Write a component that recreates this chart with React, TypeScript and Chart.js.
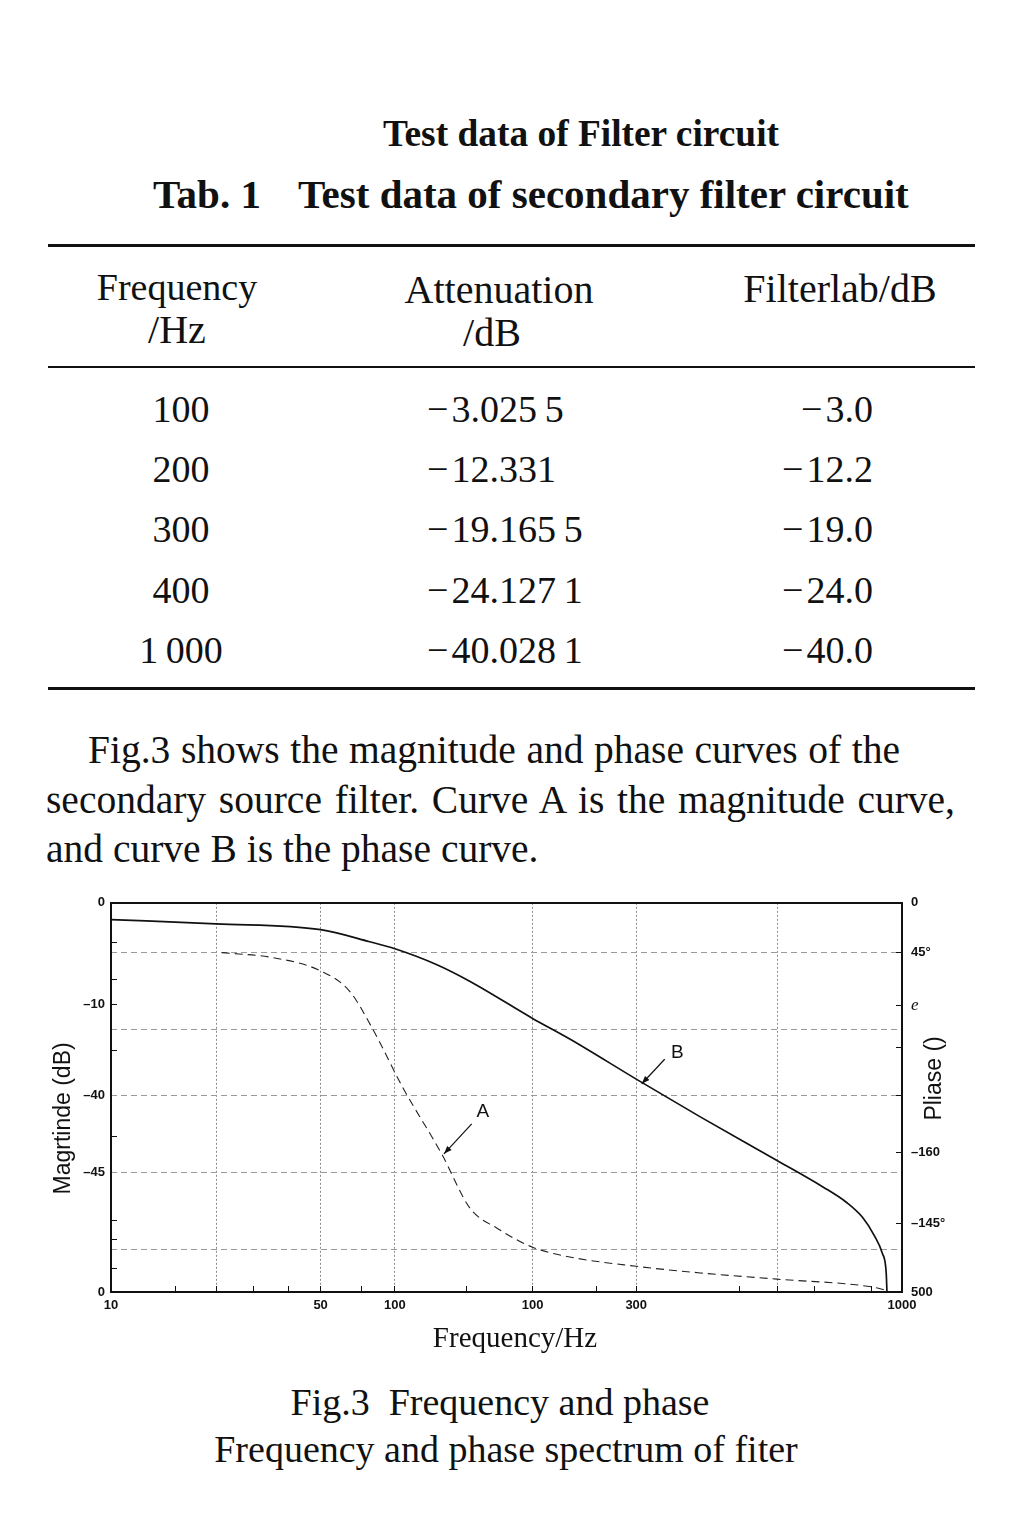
import React, { useEffect, useRef } from 'react';
import { Chart, registerables } from 'chart.js';

Chart.register(...registerables);

// ---------- Table data ----------
const tableHeaders = ['Frequency', '/Hz', 'Attenuation', '/dB', 'Filterlab/dB'];
const tableFrequency = ['100', '200', '300', '400', '1\u2009000'];
const tableAttenuation = ['\u2212\u200a3.025\u20095', '\u2212\u200a12.331', '\u2212\u200a19.165\u20095', '\u2212\u200a24.127\u20091', '\u2212\u200a40.028\u20091'];
const tableFilterlab = ['\u2212\u200a3.0', '\u2212\u200a12.2', '\u2212\u200a19.0', '\u2212\u200a24.0', '\u2212\u200a40.0'];

// ---------- Chart axes (positions along the printed axes, 0..100) ----------
const xTickPositions = [0, 8.2, 13.3, 18.0, 22.4, 26.5, 31.7, 35.9, 44.9, 53.3, 61.4, 66.4, 79.4, 84.2, 88.9, 96.2, 100];
const xTickLabels = ['10', '', '', '', '', '50', '', '100', '', '100', '', '300', '', '', '', '', '1000'];
const xGridPositions = [13.3, 26.5, 35.9, 53.3, 66.4, 84.2];

const yLeftTickPositions = [0, 6.1, 13.6, 18.4, 30.7, 39.9, 50.6, 62.1, 73.9, 80.3, 89.8, 100];
const yLeftTickLabels = ['0', '', '', '', '\u201345', '', '\u201340', '', '\u201310', '', '', '0'];
const yGridPositions = [11.0, 30.7, 50.6, 67.5, 87.2];

const yRightTickPositions = [0, 17.6, 35.8, 50.6, 62.7, 73.7, 87.2, 100];
const yRightTickLabels = ['500', '\u2013145\u00b0', '\u2013160', '', '', 'e', '45\u00b0', '0'];

// ---------- Curves ----------
// Curve B (phase, solid)
const curveBx = [0, 13.3, 26.5, 32.7, 35.9, 41.2, 45.4, 53.3, 58.0, 66.4, 74.5, 84.2, 90.0, 93.0, 95.0, 96.5, 97.5, 98.0, 98.1];
const curveBy = [95.7, 94.6, 93.1, 90.0, 88.2, 84.1, 79.8, 70.3, 65.0, 54.7, 45.0, 33.8, 27.0, 23.0, 19.2, 14.5, 10.0, 5.0, 0];
// Curve A (magnitude, dashed)
const curveAx = [14.0, 20.5, 26.5, 30.2, 33.1, 36.9, 41.8, 45.4, 48.8, 53.3, 58.0, 66.4, 74.5, 84.2, 96.2, 98.1];
const curveAy = [87.2, 85.9, 82.5, 77.2, 67.5, 52.5, 35.5, 21.5, 16.4, 11.5, 9.0, 6.6, 4.9, 3.3, 1.3, 0.4];

// ---------- Curve annotations ----------
const noteLabels = ['A', 'B'];
const noteLabelX = [47.0, 71.6];
const noteLabelY = [46.3, 61.4];
const noteFromX = [45.6, 70.0];
const noteFromY = [43.2, 59.8];
const noteToX = [42.1, 67.1];
const noteToY = [35.5, 53.5];

const SERIF = '"Liberation Serif", "Times New Roman", serif';
const SANS = '"Liberation Sans", Arial, sans-serif';

function Txt(props: { x: number; base: number; size: number; bold?: boolean; align?: 'left' | 'center' | 'right'; width?: number; justify?: boolean; children: React.ReactNode }) {
  const { x, base, size, bold, align = 'left', width, justify, children } = props;
  const style: React.CSSProperties = {
    position: 'absolute',
    top: base - 0.8375 * size,
    fontSize: size,
    lineHeight: `${size}px`,
    fontFamily: SERIF,
    fontWeight: bold ? 700 : 400,
    whiteSpace: justify ? 'normal' : 'pre',
    color: '#111',
  };
  if (align === 'left') {
    style.left = x;
    if (width) style.width = width;
    if (justify) { style.textAlign = 'justify'; style.textAlignLast = 'justify'; }
  } else if (align === 'center') {
    style.left = x - 500; style.width = 1000; style.textAlign = 'center';
  } else {
    style.left = x - 1000; style.width = 1000; style.textAlign = 'right';
  }
  return <div style={style}>{children}</div>;
}

function Rule({ y, h }: { y: number; h: number }) {
  return <div style={{ position: 'absolute', left: 48, width: 927, top: y - h / 2, height: h, background: '#111' }} />;
}

function pick(positions: number[], labels: string[]) {
  return (v: any) => {
    const i = positions.indexOf(Number(v));
    return i >= 0 ? labels[i] : '';
  };
}

const tickFont = { family: SANS, size: 13, weight: 'bold' as const };
const scriptFont = { family: SERIF, size: 17, style: 'italic' as const, weight: 'normal' as const };

export default function App() {
  const canvasRef = useRef<HTMLCanvasElement>(null);

  useEffect(() => {
    const canvas = canvasRef.current;
    if (!canvas) return;

    const overlay = {
      id: 'overlay',
      afterDatasetsDraw(chart: any) {
        const { ctx, chartArea } = chart;
        const xs = chart.scales.x;
        const ys = chart.scales.y;
        ctx.save();
        for (let i = 0; i < noteLabels.length; i++) {
          const fx = xs.getPixelForValue(noteFromX[i]);
          const fy = ys.getPixelForValue(noteFromY[i]);
          const tx = xs.getPixelForValue(noteToX[i]);
          const ty = ys.getPixelForValue(noteToY[i]);
          ctx.strokeStyle = '#111';
          ctx.fillStyle = '#111';
          ctx.lineWidth = 1.2;
          ctx.beginPath();
          ctx.moveTo(fx, fy);
          ctx.lineTo(tx, ty);
          ctx.stroke();
          const ang = Math.atan2(ty - fy, tx - fx);
          const L = 8, W = 3;
          ctx.beginPath();
          ctx.moveTo(tx, ty);
          ctx.lineTo(tx - L * Math.cos(ang) + W * Math.sin(ang), ty - L * Math.sin(ang) - W * Math.cos(ang));
          ctx.lineTo(tx - L * Math.cos(ang) - W * Math.sin(ang), ty - L * Math.sin(ang) + W * Math.cos(ang));
          ctx.closePath();
          ctx.fill();
          ctx.font = `19px ${SANS}`;
          ctx.textAlign = 'center';
          ctx.textBaseline = 'middle';
          ctx.fillText(noteLabels[i], xs.getPixelForValue(noteLabelX[i]), ys.getPixelForValue(noteLabelY[i]));
        }
        ctx.restore();

        const midY = (chartArea.top + chartArea.bottom) / 2;
        ctx.save();
        ctx.fillStyle = '#111';
        ctx.font = `23px ${SANS}`;
        ctx.textAlign = 'center';
        ctx.textBaseline = 'middle';
        ctx.translate(chartArea.left - 47, midY + 21);
        ctx.rotate(-Math.PI / 2);
        ctx.fillText('Magrtinde (dB)', 0, 0);
        ctx.restore();

        ctx.save();
        ctx.fillStyle = '#111';
        ctx.font = `23px ${SANS}`;
        ctx.textAlign = 'center';
        ctx.textBaseline = 'middle';
        ctx.translate(chartArea.right + 33, midY - 19);
        ctx.rotate(-Math.PI / 2);
        ctx.fillText('Pliase ()', 0, 0);
        ctx.restore();
      },
    };

    const chart = new Chart(canvas, {
      type: 'line',
      data: {
        datasets: [
          {
            label: 'B',
            data: curveBx.map((x, i) => ({ x, y: curveBy[i] })),
            borderColor: '#111',
            borderWidth: 1.7,
            pointRadius: 0,
            cubicInterpolationMode: 'monotone',
            fill: false,
            xAxisID: 'x',
            yAxisID: 'y',
          },
          {
            label: 'A',
            data: curveAx.map((x, i) => ({ x, y: curveAy[i] })),
            borderColor: '#222',
            borderWidth: 1.1,
            borderDash: [8, 5],
            pointRadius: 0,
            cubicInterpolationMode: 'monotone',
            fill: false,
            xAxisID: 'x',
            yAxisID: 'y',
          },
        ],
      },
      options: {
        animation: false,
        responsive: false,
        devicePixelRatio: 1,
        layout: { padding: { top: 21, left: 0, right: 0, bottom: 0 } },
        plugins: { legend: { display: false }, tooltip: { enabled: false } },
        scales: {
          x: {
            type: 'linear',
            position: 'bottom',
            min: 0,
            max: 100,
            afterBuildTicks: (s: any) => { s.ticks = xTickPositions.map((v) => ({ value: v })); },
            afterFit: (s: any) => { s.height = 68; },
            ticks: { autoSkip: false, maxRotation: 0, padding: 12, color: '#111', font: tickFont, callback: pick(xTickPositions, xTickLabels) },
            grid: {
              color: (c: any) => (c.tick && xGridPositions.includes(c.tick.value) ? '#8c8c8c' : 'rgba(0,0,0,0)'),
              lineWidth: 1,
              tickColor: '#111',
              tickLength: -6,
              tickWidth: 1,
            },
            border: { color: '#111', width: 2, dash: [2, 2] },
          },
          xTop: {
            type: 'linear',
            position: 'top',
            min: 0,
            max: 100,
            afterFit: (s: any) => { s.height = 0; },
            ticks: { display: false },
            grid: { display: false },
            border: { color: '#111', width: 2 },
          },
          y: {
            type: 'linear',
            position: 'left',
            min: 0,
            max: 100,
            afterBuildTicks: (s: any) => { s.ticks = yLeftTickPositions.map((v) => ({ value: v })); },
            afterFit: (s: any) => { s.width = 71; },
            ticks: { autoSkip: false, padding: 12, color: '#111', font: tickFont, callback: pick(yLeftTickPositions, yLeftTickLabels) },
            grid: { drawOnChartArea: false, tickColor: '#111', tickLength: -6, tickWidth: 1 },
            border: { color: '#111', width: 2 },
          },
          yg: {
            type: 'linear',
            position: 'left',
            min: 0,
            max: 100,
            afterBuildTicks: (s: any) => { s.ticks = yGridPositions.map((v) => ({ value: v })); },
            afterFit: (s: any) => { s.width = 0; },
            ticks: { display: false },
            grid: { drawTicks: false, color: '#9a9a9a', lineWidth: 1 },
            border: { display: false, dash: [6, 4] },
          },
          y2: {
            type: 'linear',
            position: 'right',
            min: 0,
            max: 100,
            afterBuildTicks: (s: any) => { s.ticks = yRightTickPositions.map((v) => ({ value: v })); },
            afterFit: (s: any) => { s.width = 88; },
            ticks: {
              autoSkip: false,
              padding: 15,
              color: '#111',
              font: (c: any) => (c.tick && pick(yRightTickPositions, yRightTickLabels)(c.tick.value) === 'e' ? scriptFont : tickFont),
              callback: pick(yRightTickPositions, yRightTickLabels),
            },
            grid: { drawOnChartArea: false, tickColor: '#111', tickLength: -6, tickWidth: 1 },
            border: { color: '#111', width: 2 },
          },
        },
      } as any,
      plugins: [overlay],
    });
    return () => chart.destroy();
  }, []);

  const rowBase = [421.7, 481.9, 542.3, 602.7, 663];

  return (
    <div style={{ position: 'absolute', left: 0, top: 0, width: 1024, height: 1536, background: '#fff', overflow: 'hidden' }}>
      <Txt x={383} base={146} size={37.4} bold>Test data of Filter circuit</Txt>
      <Txt x={153} base={208} size={41} bold>Tab. 1</Txt>
      <Txt x={298} base={208} size={41} bold>Test data of secondary filter circuit</Txt>

      <Rule y={245} h={3} />
      <Txt x={177} base={300} size={38} align="center">{tableHeaders[0]}</Txt>
      <Txt x={177} base={343} size={40} align="center">{tableHeaders[1]}</Txt>
      <Txt x={499} base={303} size={40} align="center">{tableHeaders[2]}</Txt>
      <Txt x={492} base={346} size={40} align="center">{tableHeaders[3]}</Txt>
      <Txt x={840} base={302} size={40} align="center">{tableHeaders[4]}</Txt>
      <Rule y={367} h={2} />
      {tableFrequency.map((f, i) => (
        <React.Fragment key={i}>
          <Txt x={181} base={rowBase[i]} size={38} align="center">{f}</Txt>
          <Txt x={427} base={rowBase[i]} size={38}>{tableAttenuation[i]}</Txt>
          <Txt x={873} base={rowBase[i]} size={38} align="right">{tableFilterlab[i]}</Txt>
        </React.Fragment>
      ))}
      <Rule y={688} h={3} />

      <Txt x={88} base={764.5} size={39.5} width={812} justify>Fig.3 shows the magnitude and phase curves of the</Txt>
      <Txt x={46} base={814.5} size={39.5} width={909} justify>secondary source filter. Curve A is the magnitude curve,</Txt>
      <Txt x={46} base={863.5} size={39.5}>and curve B is the phase curve.</Txt>

      <canvas ref={canvasRef} width={950} height={480} style={{ position: 'absolute', left: 40, top: 880, width: 950, height: 480 }} />

      <Txt x={515} base={1347} size={29} align="center">Frequency/Hz</Txt>

      <Txt x={500} base={1415} size={38} align="center">Fig.3  Frequency and phase</Txt>
      <Txt x={506} base={1462} size={38} align="center">Frequency and phase spectrum of fiter</Txt>
    </div>
  );
}
